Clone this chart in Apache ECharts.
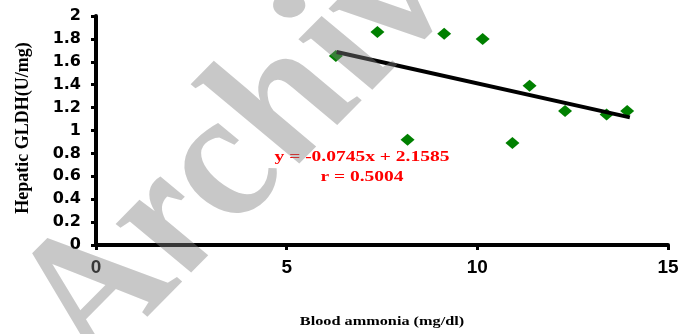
<!DOCTYPE html>
<html>
<head>
<meta charset="utf-8">
<script src="https://cdn.jsdelivr.net/npm/echarts@6/dist/echarts.min.js"></script>
<style>html,body{margin:0;padding:0;background:#fff;}#c{width:679px;height:334px;}</style>
</head>
<body>
<div id="c"></div>
<script>
// Data
const ammonia = [6.29, 7.38, 8.17, 9.13, 10.14, 10.92, 11.37, 12.30, 13.39, 13.93];
const gldh    = [1.65, 1.86, 0.92, 1.845, 1.80, 0.89, 1.39, 1.17, 1.14, 1.17];
const trendX  = [6.31, 14.0];
const trendY  = [1.686, 1.115];
const xTicks  = [0, 5, 10, 15];
const yTicks  = [0, 0.2, 0.4, 0.6, 0.8, 1, 1.2, 1.4, 1.6, 1.8, 2];
const xName = 'Blood ammonia (mg/dl)';
const yName = 'Hepatic GLDH(U/mg)';
const eqText = 'y = -0.0745x + 2.1585';
const rText = 'r = 0.5004';
const watermark = 'Archive';

const points = ammonia.map((x, i) => [x, gldh[i]]);
const trend = trendX.map((x, i) => [x, trendY[i]]);

const chart = echarts.init(document.getElementById('c'), null, {renderer: 'canvas'});
chart.setOption({
  animation: false,
  backgroundColor: '#ffffff',
  grid: {left: 96, right: 11, top: 16, bottom: 89, containLabel: false, outerBoundsMode: 'none'},
  xAxis: {
    type: 'value', min: xTicks[0], max: xTicks[xTicks.length - 1], interval: 5,
    splitLine: {show: false},
    axisLine: {show: true, onZero: false, lineStyle: {color: '#000', width: 4}},
    axisTick: {show: true, inside: false, length: 5, lineStyle: {color: '#000', width: 3}},
    axisLabel: {color: '#000', fontFamily: 'Liberation Sans', fontWeight: 'bold', fontSize: 19, margin: 13}
  },
  yAxis: {
    type: 'value', min: yTicks[0], max: yTicks[yTicks.length - 1], interval: 0.2,
    splitLine: {show: false},
    axisLine: {show: true, onZero: false, lineStyle: {color: '#000', width: 4}},
    axisTick: {show: true, inside: false, length: 5, lineStyle: {color: '#000', width: 3}},
    axisLabel: {color: '#000', fontFamily: 'DejaVu Sans', fontWeight: 'bold', fontSize: 16, margin: 15,
      formatter: v => String(Math.round(v * 10) / 10)}
  },
  series: [
    {type: 'scatter', data: points, symbol: 'diamond', symbolSize: [14, 12],
     itemStyle: {color: '#008000', opacity: 1}, z: 2},
    {type: 'line', data: trend, symbol: 'none', lineStyle: {color: '#000', width: 4}, z: 3}
  ],
  graphic: [
    {type: 'text', x: 362, y: 157, scaleX: 1.3, z: 50,
     style: {text: eqText, fill: '#ff0000', font: 'bold 15px "Liberation Serif"', textAlign: 'center', textVerticalAlign: 'middle'}},
    {type: 'text', x: 362, y: 177, scaleX: 1.3, z: 50,
     style: {text: rText, fill: '#ff0000', font: 'bold 15px "Liberation Serif"', textAlign: 'center', textVerticalAlign: 'middle'}},
    {type: 'text', x: 382, y: 322, scaleX: 1.25, z: 50,
     style: {text: xName, fill: '#000', font: 'bold 13px "Liberation Serif"', textAlign: 'center', textVerticalAlign: 'middle'}},
    {type: 'text', x: 23, y: 128, rotation: Math.PI / 2, z: 50,
     style: {text: yName, fill: '#000', font: 'bold 18px "Liberation Serif"', textAlign: 'center', textVerticalAlign: 'middle'}},
    {type: 'group', x: 0, y: 0, scaleX: 1.3, z: 100, children: [
      {type: 'text', x: 110, y: 387, rotation: 0.92, z: 100,
       style: {text: watermark, fill: 'rgba(128,128,128,0.43)', font: 'italic bold 165px "Liberation Serif"', textAlign: 'left', textVerticalAlign: 'bottom'}}
    ]}
  ]
});
</script>
</body>
</html>
